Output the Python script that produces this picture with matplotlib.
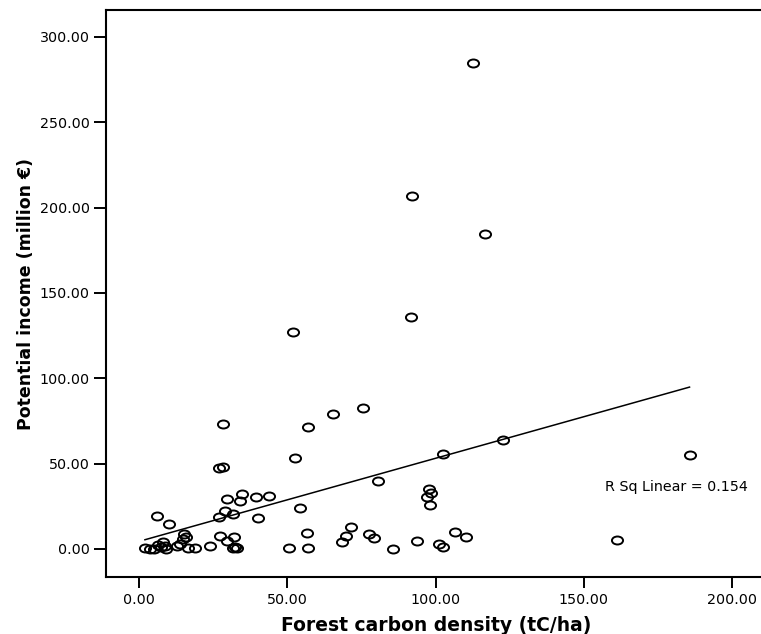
"""carbon_income_scatter.py -- potential income vs forest carbon density, with linear fit."""
import numpy as np
import matplotlib
matplotlib.use("Agg")
import matplotlib.pyplot as plt
from matplotlib.path import Path
from matplotlib.transforms import Affine2D

# forest carbon density (tC/ha) per region
carbon = [112.5, 92.2, 116.7, 52.0, 91.6, 28.4, 57.1, 65.5, 75.4, 102.6,
          52.6, 122.7, 185.6, 161.2,
          27.1, 28.2, 29.6, 34.6, 34.1, 39.4, 43.9, 29.0, 31.6, 27.1,
          40.0, 6.2, 10.0, 15.1, 15.7, 14.9, 13.8, 12.9, 27.3, 29.6,
          32.0, 31.8, 32.5, 33.1, 23.9, 16.6, 18.9, 50.6,
          2.0, 3.7, 5.2, 6.3, 8.2, 7.4, 9.1, 8.8, 54.2,
          80.5, 97.8, 98.3, 97.0, 98.1, 56.5, 57.1, 71.5, 69.7,
          68.4, 77.6, 79.2, 85.7, 93.6, 101.3, 102.6, 106.5, 110.1]
# potential income (million EUR)
income = [284.8, 206.9, 184.3, 127.2, 135.8, 73.0, 71.2, 79.2, 82.4, 55.8,
          53.2, 63.7, 55.0, 5.2,
          47.2, 48.2, 29.0, 32.0, 28.1, 30.6, 31.0, 22.2, 20.4, 18.9,
          18.3, 19.4, 14.4, 8.7, 6.8, 5.6, 2.7, 1.7, 7.6, 4.8,
          7.1, 0.3, 1.0, 0.6, 1.7, 0.3, 0.3, 0.3,
          0.7, 0.1, 0.0, 2.3, 3.9, 0.9, 0.0, 1.7, 23.8,
          40.0, 34.9, 32.6, 30.6, 25.7, 9.5, 0.7, 13.0, 7.6,
          4.0, 8.7, 6.6, 0.1, 4.8, 2.9, 1.3, 10.1, 7.1]

# linear fit reported with the chart
fit_intercept = 4.4
fit_slope = 0.487
r_sq = 0.154

x_ticks = [0, 50, 100, 150, 200]
y_ticks = [0, 50, 100, 150, 200, 250, 300]


def main():
    x = np.asarray(carbon, float)
    y = np.asarray(income, float)

    fig = plt.figure(figsize=(7.61, 6.34), dpi=100)
    # plot box runs past the right edge of the canvas
    ax = fig.add_axes([106 / 761, 57 / 634, 675 / 761, 567 / 634])

    # slightly flattened open circle marker
    oval = Path.unit_circle().transformed(Affine2D().scale(1.0, 0.72))
    ax.plot(x, y, ls="none", marker=oval, ms=8.0, mfc="none", mec="black", mew=1.4)

    xf = np.array([x.min(), x.max()])
    ax.plot(xf, fit_intercept + fit_slope * xf, color="black", lw=1.1)
    ax.text(157, 36, f"R Sq Linear = {r_sq:.3f}", ha="left", va="center", fontsize=10.3)

    ax.set_xlim(-11.13, 209.7 + 20 / 2.966)
    ax.set_ylim(-16.46, 315.7)
    ax.set_xticks(x_ticks)
    ax.set_yticks(y_ticks)
    ax.set_xticklabels([f"{v:.2f}" for v in x_ticks])
    ax.set_yticklabels([f"{v:.2f}" for v in y_ticks])
    ax.tick_params(axis="x", direction="out", length=7.6, width=1.4, pad=4, labelsize=10.3)
    ax.tick_params(axis="y", direction="out", length=8.6, width=1.4, pad=3, labelsize=10.3)

    for side in ("left", "top", "bottom"):
        ax.spines[side].set_linewidth(1.5)
    ax.spines["right"].set_visible(False)

    ax.set_xlabel("Forest carbon density (tC/ha)", fontsize=13.5, fontweight="bold")
    ax.set_ylabel("Potential income (million €)", fontsize=12.5, fontweight="bold")
    ax.xaxis.set_label_coords((436 - 106) / 675, -0.068)
    ax.yaxis.set_label_coords((35 - 106) / 675, 0.5)

    fig.savefig("out.png", dpi=100)


if __name__ == "__main__":
    main()
